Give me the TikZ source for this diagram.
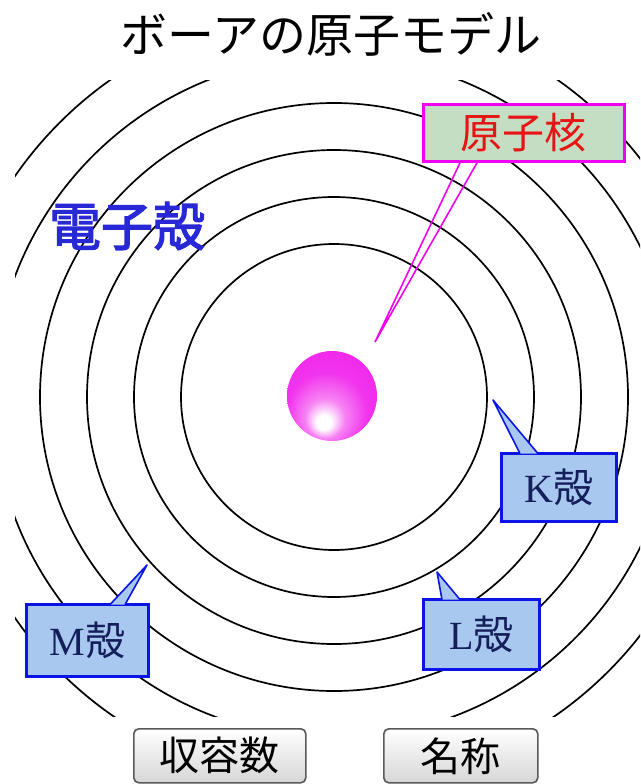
\documentclass[tikz,border=0pt]{standalone}
\usepackage{fontspec}
\setmainfont{Liberation Serif}
\newfontfamily\jp{Noto Sans CJK JP}
\newfontfamily\jpb[FakeBold=2.5]{Noto Sans CJK JP}
\newfontfamily\lat{Liberation Serif}

\definecolor{labelfill}{RGB}{168,200,240}
\definecolor{labelline}{RGB}{10,20,230}
\definecolor{labeltext}{RGB}{20,30,90}
\definecolor{nucfill}{RGB}{196,222,196}
\definecolor{nucline}{RGB}{240,0,240}
\definecolor{nuctext}{RGB}{230,20,20}
\definecolor{shellblue}{RGB}{40,40,215}
\definecolor{ballcol}{RGB}{240,30,235}

% nucleus: magenta ball with a white glint below the centre
\pgfdeclareradialshading{nucleus}{\pgfpoint{-5bp}{-16bp}}{%
  color(0bp)=(white); color(4bp)=(white);
  color(11bp)=(ballcol!55!white); color(22bp)=(ballcol!90!white);
  color(40bp)=(ballcol); color(50bp)=(ballcol)}

\tikzset{
  orbit/.style={draw=black, line width=1.7pt},
  shellbox/.style={draw=labelline, fill=labelfill, line width=2.6pt,
    anchor=north west, inner sep=0pt, text=labeltext},
  shellptr/.style={draw=labelline, fill=labelfill, line width=1.6pt, line join=round},
  nucbox/.style={draw=nucline, fill=nucfill, line width=2.8pt, anchor=north west,
    inner sep=0pt, minimum width=201pt, minimum height=57pt,
    text=nuctext, font=\jp\fontsize{42}{46}\selectfont},
  nucptr/.style={draw=nucline, line width=1.6pt},
  btn/.style={draw=black!65, line width=1.6pt, rounded corners=5pt,
    top color=white, bottom color=black!16, anchor=north west, inner sep=0pt,
    minimum height=54pt, font=\jp\fontsize{40}{44}\selectfont},
  shelltext/.style={font=\jpb\fontsize{52}{56}\selectfont, inner sep=0pt, text=shellblue},
}

\newcommand{\shelllabel}[1]{{\lat\fontsize{40}{44}\selectfont #1}{\jp\fontsize{40}{44}\selectfont 殻}}

\begin{document}
\begin{tikzpicture}[x=1pt,y=-1pt]
  \useasboundingbox (0,0) rectangle (640,784);
  \fill[white] (0,0) rectangle (640,784);

  % title
  \node[font=\jp\fontsize{47}{51}\selectfont, inner sep=0pt] (title) at (331,34) {ボーアの原子モデル};

  % electron shells
  \coordinate (C) at (334,397);
  \begin{scope}
    \clip (15,80) rectangle (640,716);
    \foreach \r in {153,200,247,294,341,388}
      \draw[orbit] (C) circle[radius=\r pt];
  \end{scope}

  % nucleus
  \node[circle, minimum size=90pt, inner sep=0pt, shading=nucleus] (N) at (332,396) {};

  % "electron shell" caption
  \node[shelltext] (E) at (127,226) {電子殻};

  % nucleus label and its pointer
  \node[nucbox] (nuc) at (422,103) {原子核};
  \coordinate (nuctip) at (375,342);
  \draw[nucptr] ([xshift=38pt]nuc.south west) -- (nuctip) -- ([xshift=55pt]nuc.south west);

  % shell labels
  \node[shellbox, minimum width=115pt, minimum height=68pt] (K) at (500,452) {\shelllabel{K}};
  \coordinate (Ktip) at (493,400);
  \filldraw[shellptr] ([xshift=20pt,yshift=-1.6pt]K.north west) -- (Ktip) -- ([xshift=38pt,yshift=-1.6pt]K.north west);

  \node[shellbox, minimum width=116pt, minimum height=70pt] (L) at (422,598) {\shelllabel{L}};
  \coordinate (Ltip) at (437,572);
  \filldraw[shellptr] ([xshift=20pt,yshift=-1.6pt]L.north west) -- (Ltip) -- ([xshift=38pt,yshift=-1.6pt]L.north west);

  \node[shellbox, minimum width=122pt, minimum height=72pt] (M) at (25,603) {\shelllabel{M}};
  \coordinate (Mtip) at (147,565);
  \filldraw[shellptr] ([xshift=85pt,yshift=-1.6pt]M.north west) -- (Mtip) -- ([xshift=100pt,yshift=-1.6pt]M.north west);

  % buttons
  \node[btn, minimum width=172pt] (cap) at (133,728) {収容数};
  \node[btn, minimum width=154pt] (name) at (383,728) {名称};
\end{tikzpicture}
\end{document}
